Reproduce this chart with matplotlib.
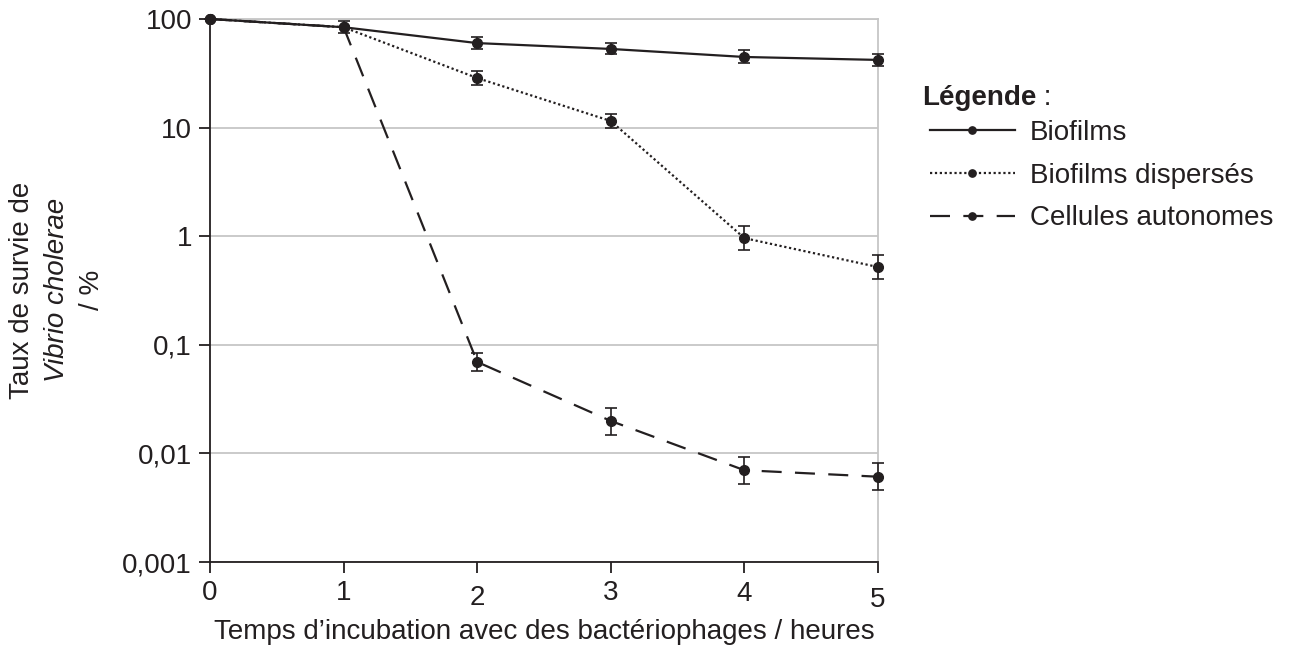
import matplotlib
matplotlib.use("Agg")
import matplotlib.pyplot as plt
from matplotlib.ticker import FixedLocator, NullLocator

plt.rcParams['font.family'] = ['Liberation Sans', 'DejaVu Sans']

# data
heures = [0, 1, 2, 3, 4, 5]

biofilms = [100, 84, 60, 53, 44.7, 42]
biofilms_lo = [100, 74, 53, 47.6, 39, 37]
biofilms_hi = [100, 96, 68, 60, 52, 47.6]

disperses = [100, 84, 28.6, 11.5, 0.96, 0.52]
disperses_lo = [100, 84, 24.7, 9.9, 0.75, 0.40]
disperses_hi = [100, 84, 33.2, 13.3, 1.24, 0.67]

autonomes = [100, 84, 0.0695, 0.0199, 0.0070, 0.0061]
autonomes_lo = [100, 84, 0.057, 0.0148, 0.0052, 0.0046]
autonomes_hi = [100, 84, 0.084, 0.0262, 0.0093, 0.0082]

y_ticks = [0.001, 0.01, 0.1, 1, 10, 100]
y_labels = ['0,001', '0,01', '0,1', '1', '10', '100']

noms = ['Biofilms', 'Biofilms dispersés', 'Cellules autonomes']

ink = '#231f20'
gris = '#c6c6c6'
fs = 20

fig = plt.figure(figsize=(13.02, 6.55), dpi=100)
ax = fig.add_axes([210 / 1302, 1 - 562 / 655, 668 / 1302, 543 / 655])

series = [
    (biofilms, biofilms_lo, biofilms_hi, '-'),
    (disperses, disperses_lo, disperses_hi, (0, (1, 1.2))),
    (autonomes, autonomes_lo, autonomes_hi, (0, (9, 6))),
]
handles = []
for (v, lo, hi, ls), nom in zip(series, noms):
    err = [[a - b for a, b in zip(v, lo)], [c - a for a, c in zip(v, hi)]]
    _, caps, bars = ax.errorbar(heures, v, yerr=err, fmt='none', ecolor=ink,
                                elinewidth=1.2, capsize=4, capthick=1.2, zorder=3)
    for a in list(caps) + list(bars):
        a.set_clip_on(False)
    h, = ax.plot(heures, v, linestyle=ls, color=ink, lw=1.6, marker='o',
                 markersize=7, markerfacecolor=ink, markeredgecolor=ink,
                 zorder=4, label=nom, clip_on=False)
    handles.append(h)

ax.set_yscale('log')
ax.set_ylim(0.001, 100)
ax.set_xlim(0, 5)
ax.yaxis.set_major_locator(FixedLocator(y_ticks))
ax.yaxis.set_minor_locator(NullLocator())
ax.set_yticklabels(y_labels)
ax.set_xticks(heures)
ax.grid(axis='y', color=gris, lw=1.3, zorder=0)

for s in ['top', 'right']:
    ax.spines[s].set_color(gris)
    ax.spines[s].set_linewidth(1.3)
for s in ['left', 'bottom']:
    ax.spines[s].set_color(ink)
    ax.spines[s].set_linewidth(1.3)

ax.tick_params(axis='both', direction='out', length=8, width=1.3, color=ink,
               labelsize=fs, labelcolor=ink, pad=5)

# small vertical jitter of the x tick labels, as in the original
decal = [0, 0, 5, 0, 1, 7]
for lab, d in zip(ax.get_xticklabels(), decal):
    lab.set_y(lab.get_position()[1] - d / 543)

ax.set_xlabel('Temps d\u2019incubation avec des bactériophages / heures',
              fontsize=fs, color=ink, labelpad=4)

# three line y label
fig.text(22 / 1302, 0.557, 'Taux de survie de', rotation=90, ha='center',
         va='center', fontsize=fs, color=ink)
fig.text(57 / 1302, 0.557, 'Vibrio cholerae', rotation=90, ha='center',
         va='center', fontsize=fs, color=ink, style='italic')
fig.text(92 / 1302, 0.557, '/ %', rotation=90, ha='center',
         va='center', fontsize=fs, color=ink)

leg = ax.legend(handles=handles, loc='upper left', bbox_to_anchor=(1.078, 0.814),
                frameon=False, borderpad=0, borderaxespad=0, fontsize=fs,
                handlelength=3.05, handletextpad=0.55, labelspacing=0.6,
                numpoints=1, markerscale=0.75)
for t in leg.get_texts():
    t.set_color(ink)

t1 = fig.text(922 / 1302, 1 - 105 / 655, 'Légende', fontsize=fs,
              fontweight='bold', color=ink, ha='left', va='baseline')
fig.canvas.draw()
bb = t1.get_window_extent()
fig.text(bb.x1 / 1302, 1 - 105 / 655, ' :', fontsize=fs, color=ink,
         ha='left', va='baseline')

fig.savefig('out.png', dpi=100)
